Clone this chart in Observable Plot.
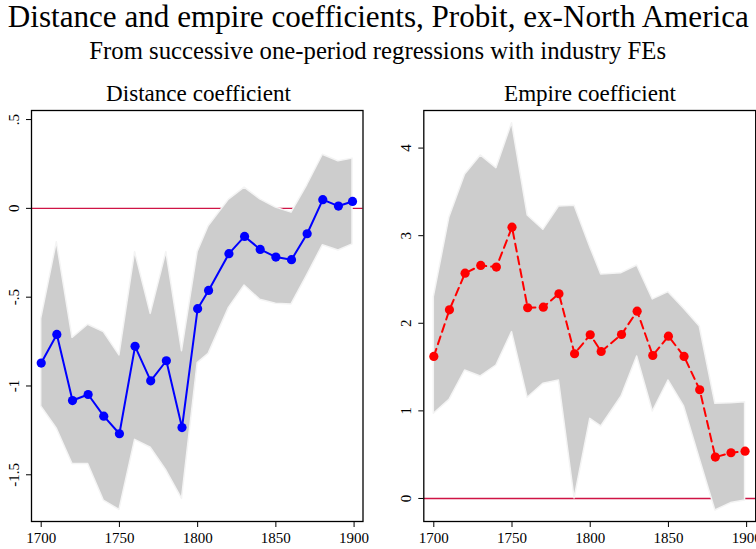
<!DOCTYPE html>
<html>
<head>
<meta charset="utf-8">
<script src="https://cdn.jsdelivr.net/npm/d3@7"></script>
<script src="https://cdn.jsdelivr.net/npm/@observablehq/plot@0.6"></script>
<style>
  html, body { margin: 0; padding: 0; background: #fff; overflow: hidden; }
  #page { position: relative; width: 756px; height: 549px; overflow: hidden; font-family: "Liberation Serif", serif; }
  #titles { position: absolute; left: 0; top: 0; }
  .panel { position: absolute; }
  .panel svg { font-family: "Liberation Serif", serif; }
</style>
</head>
<body>
<div id="page">
  <svg id="titles" width="756" height="110"></svg>
  <div id="left" class="panel" style="left:0px; top:105px;"></div>
  <div id="right" class="panel" style="left:370px; top:105px;"></div>
</div>
<script>
// ---- Data ----
const years = [1700,1710,1720,1730,1740,1750,1760,1770,1780,1790,1800,1807,1820,1830,1840,1850,1860,1870,1880,1890,1899];

const distCoef = [-0.871,-0.710,-1.082,-1.048,-1.170,-1.269,-0.777,-0.971,-0.858,-1.234,-0.565,-0.462,-0.255,-0.158,-0.231,-0.274,-0.289,-0.143,0.049,0.013,0.039];
const distHi   = [-0.622,-0.190,-0.729,-0.655,-0.697,-0.828,-0.246,-0.594,-0.246,-0.804,-0.246,-0.101,0.049,0.117,0.051,0.004,-0.024,0.130,0.302,0.265,0.280];
const distLo   = [-1.115,-1.241,-1.439,-1.439,-1.645,-1.698,-1.303,-1.348,-1.476,-1.636,-0.871,-0.819,-0.560,-0.434,-0.515,-0.537,-0.541,-0.377,-0.208,-0.237,-0.203];

const empCoef = [1.621,2.154,2.572,2.660,2.641,3.097,2.177,2.184,2.337,1.652,1.869,1.678,1.872,2.138,1.632,1.853,1.621,1.241,0.472,0.522,0.540];
const empHi   = [2.298,3.211,3.699,3.916,3.771,4.284,3.231,3.067,3.333,3.341,2.869,2.557,2.572,2.660,2.272,2.355,2.165,1.963,1.081,1.088,1.099];
const empLo   = [0.967,1.126,1.461,1.393,1.518,1.899,1.149,1.309,1.347,0.000,0.909,0.822,1.164,1.621,0.993,1.347,1.050,0.453,-0.137,-0.053,-0.023];

const xTicks = [1700,1750,1800,1850,1900];
const distYTicks = [-1.5,-1,-0.5,0,0.5];
const distYLabels = ["-1.5","-1","-.5","0",".5"];
const empYTicks = [0,1,2,3,4];
const empYLabels = ["0","1","2","3","4"];

const mainTitle = "Distance and empire coefficients, Probit, ex-North America";
const subTitle = "From successive one-period regressions with industry FEs";
const distTitle = "Distance coefficient";
const empTitle = "Empire coefficient";

// ---- Titles ----
const FONT = '"Liberation Serif"';
const ctx = document.createElement("canvas").getContext("2d");
function sizeFor(text, width) {
  ctx.font = `100px ${FONT}`;
  return 100 * width / ctx.measureText(text).width;
}
const titleSvg = d3.select("#titles");
[
  {t: mainTitle, cx: 378.3, base: 26.7, w: 743},
  {t: subTitle, cx: 377.7, base: 59, w: 577},
  {t: distTitle, cx: 198.5, base: 100.7, w: 185},
  {t: empTitle, cx: 590, base: 100.7, w: 172}
].forEach(d => {
  titleSvg.append("text")
    .attr("x", d.cx).attr("y", d.base)
    .attr("text-anchor", "middle")
    .attr("font-family", "Liberation Serif")
    .attr("font-size", sizeFor(d.t, d.w))
    .attr("fill", "#000")
    .text(d.t);
});

// ---- Panels ----
const distData = years.map((y, i) => ({year: y, v: distCoef[i], lo: distLo[i], hi: distHi[i]}));
const empData = years.map((y, i) => ({year: y, v: empCoef[i], lo: empLo[i], hi: empHi[i]}));

const AXIS_FONT = "Liberation Serif";

function panel({data, width, marginLeft, marginRight, xDomain, yDomain, yTicks, yLabels, color, dash}) {
  return Plot.plot({
    width, height: 444,
    marginTop: 5, marginBottom: 28, marginLeft, marginRight,
    style: {fontFamily: AXIS_FONT, fontSize: "15px", color: "#000", background: "transparent", overflow: "visible"},
    x: {domain: xDomain, label: null},
    y: {domain: yDomain, label: null},
    marks: [
      Plot.ruleY([0], {stroke: "#cf1446", strokeWidth: 1.4}),
      Plot.areaY(data, {x: "year", y1: "lo", y2: "hi", fill: "#cdcdcd", stroke: "#f4f4f4", strokeWidth: 1.5, curve: "linear"}),
      Plot.lineY(data, {x: "year", y: "v", stroke: color, strokeWidth: 2, strokeDasharray: dash}),
      Plot.dot(data, {x: "year", y: "v", r: 4.6, fill: color, stroke: "none"}),
      Plot.frame({stroke: "#000", strokeWidth: 1.3}),
      Plot.axisX({ticks: xTicks, tickFormat: d => String(d), tickSize: 6, tickPadding: 5, fontSize: 15, fontFamily: AXIS_FONT, label: null}),
      Plot.axisY({ticks: yTicks, tickFormat: d => yLabels[yTicks.indexOf(d)], tickSize: 5, tickPadding: 8, tickRotate: -90, fontSize: 15, fontFamily: AXIS_FONT, label: null})
    ]
  });
}

document.getElementById("left").appendChild(panel({
  data: distData, width: 370, marginLeft: 31, marginRight: 7.5,
  xDomain: [1693.8, 1905.7], yDomain: [-1.763, 0.551],
  yTicks: distYTicks, yLabels: distYLabels, color: "#0000ff", dash: null
}));
document.getElementById("right").appendChild(panel({
  data: empData, width: 386, marginLeft: 53.3, marginRight: 0.8,
  xDomain: [1693.6, 1905.8], yDomain: [-0.263, 4.429],
  yTicks: empYTicks, yLabels: empYLabels, color: "#ff0000", dash: "8,5"
}));
</script>
</body>
</html>
